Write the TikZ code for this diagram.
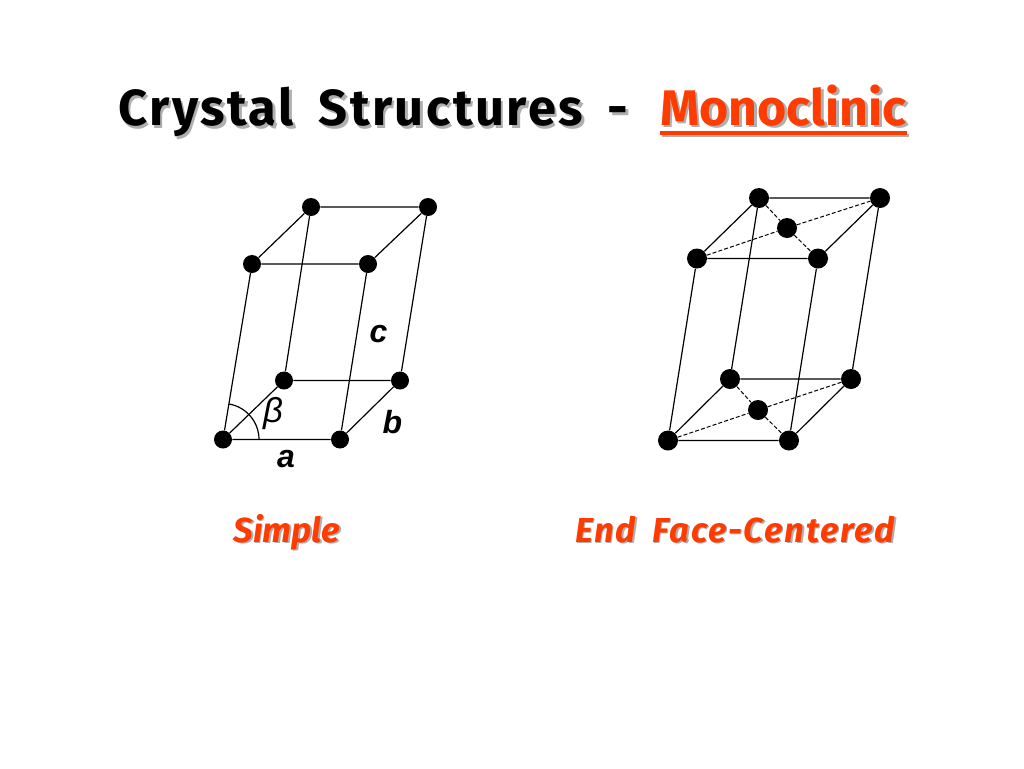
\documentclass[tikz,border=0pt]{standalone}
\usepackage{fontspec}
\setmainfont{Fira Sans}
\newfontfamily\labelfont{Liberation Sans}
\newfontfamily\widefont[LetterSpace=5,WordSpace=1.7]{Fira Sans}
\definecolor{titlered}{RGB}{255,60,0}
\definecolor{shadowgray}{RGB}{175,175,175}
\tikzset{
    atom/.style={circle,fill=black,inner sep=0pt,minimum size=#1},
    atom/.default={13.5pt},
    edge/.style={line width=0.9pt},
    hidden/.style={line width=0.75pt,dash pattern=on 3pt off 1.6pt},
    axislabel/.style={font=\labelfont\bfseries\itshape\fontsize{24}{24}\selectfont,inner sep=0pt},
    titletext/.style={font=\bfseries\fontsize{38}{38}\selectfont,inner sep=0pt,anchor=base west},
    monotext/.style={titletext,font=\bfseries\fontsize{37.5}{38}\selectfont},
    subtext/.style={font=\bfseries\itshape\fontsize{26}{26}\selectfont,inner sep=0pt,anchor=base}
}
\begin{document}
\begin{tikzpicture}[x=0.75pt,y=-0.75pt]
    \useasboundingbox[fill=white] (0,0) rectangle (1024,768);

    % Title with its shadow
    \node[titletext,text=shadowgray] (titleshadow) at (120.5,128) {\widefont Crystal Structures -};
    \node[titletext,text=black] (title) at (118,125.5) {\widefont Crystal Structures -};
    \node[monotext,text=shadowgray] (monoshadow) at (662.5,127.5) {Monoclinic};
    \node[monotext,text=titlered] (mono) at (660,125) {Monoclinic};
    \coordinate (underA) at (660,133);
    \coordinate (underB) at (907,133);
    \draw[shadowgray,line width=2.8pt] ([shift={(2,2.5)}]underA) -- ([shift={(2,2.5)}]underB);
    \draw[titlered,line width=2.8pt] (underA) -- (underB);

    % Simple cell: bottom atoms, then top atoms
    \foreach \name/\x/\y in {sa/223/439.5,sb/340/439.5,sc/400/380.5,sd/284/380.5,
                             se/252/264,sf/368/264,sg/428/207,sh/311/207} {
        \node[atom] (\name) at (\x,\y) {};
    }
    \draw[edge] (sa) -- (sb) -- (sc) -- (sd) -- (sa);
    \draw[edge] (se) -- (sf) -- (sg) -- (sh) -- (se);
    \draw[edge] (sa) -- (se);
    \draw[edge] (sb) -- (sf);
    \draw[edge] (sc) -- (sg);
    \draw[edge] (sd) -- (sh);

    % Angle between a and c
    \draw[edge] ([shift={(36,0)}]sa.center) arc (0:-80:36);

    \node[axislabel] (labela) at (286,459) {a};
    \node[axislabel] (labelb) at (392.5,422) {b};
    \node[axislabel] (labelc) at (378.5,334) {c};
    \node[font=\labelfont\itshape\fontsize{26}{26}\selectfont,inner sep=0pt] (labelbeta) at (273,414) {β};

    % End face-centered cell
    \foreach \name/\x/\y in {ea/668/440.5,eb/789/440.5,ec/851/379,ed/730/379,
                             ee/697/258.5,ef/818/258.5,eg/880/198,eh/759/198} {
        \node[atom=15pt] (\name) at (\x,\y) {};
    }
    \node[atom=15pt] (em) at (758,410) {};
    \node[atom=15pt] (en) at (787,228) {};
    \draw[edge] (ea) -- (eb) -- (ec) -- (ed) -- (ea);
    \draw[edge] (ee) -- (ef) -- (eg) -- (eh) -- (ee);
    \draw[edge] (ea) -- (ee);
    \draw[edge] (eb) -- (ef);
    \draw[edge] (ec) -- (eg);
    \draw[edge] (ed) -- (eh);

    % Face diagonals
    \draw[hidden] (ea) -- (em);
    \draw[hidden] (em) -- (ec);
    \draw[hidden] (ed) -- (em);
    \draw[hidden] (em) -- (eb);
    \draw[hidden] (ee) -- (en);
    \draw[hidden] (en) -- (eg);
    \draw[hidden] (eh) -- (en);
    \draw[hidden] (en) -- (ef);

    % Captions
    \node[subtext,text=shadowgray] (simpleshadow) at (288.5,543.5) {Simple};
    \node[subtext,text=titlered] (simple) at (287,542) {Simple};
    \node[subtext,text=shadowgray] (endshadow) at (736.5,543.5) {\widefont End Face-Centered};
    \node[subtext,text=titlered] (endface) at (735,542) {\widefont End Face-Centered};
\end{tikzpicture}
\end{document}
